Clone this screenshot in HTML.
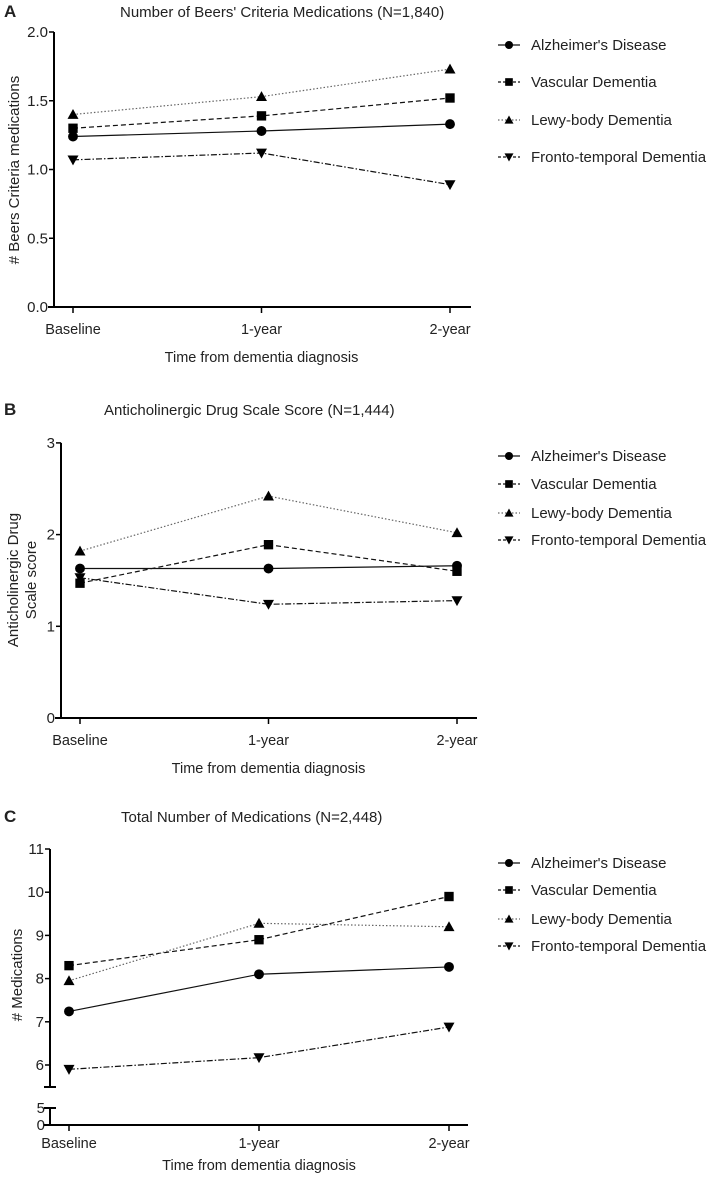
<!DOCTYPE html>
<html><head><meta charset="utf-8"><style>
body{margin:0;background:#fff;}
svg text{font-family:"Liberation Sans",Arial,sans-serif;fill:#222;}
</style></head><body>
<svg id="fig" width="717" height="1176" viewBox="0 0 717 1176" xmlns="http://www.w3.org/2000/svg"></svg>
<script>
const timeLabels = ["Baseline","1-year","2-year"];
const seriesNames = ["Alzheimer's Disease","Vascular Dementia","Lewy-body Dementia","Fronto-temporal Dementia"];
const beersAD = [1.24,1.28,1.33];
const beersVasc = [1.30,1.39,1.52];
const beersLewy = [1.40,1.53,1.73];
const beersFTD = [1.07,1.12,0.89];
const beersTicks = [0,0.5,1.0,1.5,2.0];
const acbAD = [1.63,1.63,1.66];
const acbVasc = [1.47,1.89,1.60];
const acbLewy = [1.82,2.42,2.02];
const acbFTD = [1.53,1.24,1.28];
const acbTicks = [0,1,2,3];
const medsAD = [7.24,8.10,8.27];
const medsVasc = [8.30,8.90,9.90];
const medsLewy = [7.95,9.28,9.20];
const medsFTD = [5.90,6.17,6.88];
const medsTicks = [6,7,8,9,10,11];

const NS="http://www.w3.org/2000/svg";
const svg=document.getElementById('fig');
function mk(tag,attrs,parent){const e=document.createElementNS(NS,tag);for(const k in attrs)e.setAttribute(k,attrs[k]);(parent||svg).appendChild(e);return e;}
const dashes=["", "5,3", "1.5,2", "6,2,1.5,2"];
const markers=["circle","square","tri","tridown"];
function marker(g,type,x,y,s){
  let m;
  if(type==="circle") m=mk('circle',{cx:x,cy:y,r:s*0.9,fill:'#000'},g);
  else if(type==="square") m=mk('rect',{x:x-s*0.85,y:y-s*0.85,width:s*1.7,height:s*1.7,fill:'#000'},g);
  else if(type==="tri") m=mk('polygon',{points:`${x},${y-s} ${x-s},${y+s*0.8} ${x+s},${y+s*0.8}`,fill:'#000'},g);
  else m=mk('polygon',{points:`${x},${y+s} ${x-s},${y-s*0.8} ${x+s},${y-s*0.8}`,fill:'#000'},g);
  return m;
}
function panel(p){
  const g=mk('g',{});
  
  
  const L=mk('text',{x:4,y:p.titleY+5,'font-size':17,'font-weight':'bold'},g);L.textContent=p.letter;
  
  
  const T=mk('text',{x:p.titleX,y:p.titleY+5,'font-size':15},g);T.textContent=p.title;
  
  
  const xs=i=>p.x0+(p.x2-p.x0)*i/2;
  const ys=p.ys;
  const ax=mk('g',{},g);
  
  
  if(p.broken){
    mk('line',{x1:p.ax,y1:ys(p.yTop),x2:p.ax,y2:p.breakY,stroke:'#000','stroke-width':2},ax);
    mk('line',{x1:p.ax-6,y1:p.breakY,x2:p.ax+6,y2:p.breakY,stroke:'#000','stroke-width':2},ax);
    mk('line',{x1:p.ax,y1:p.lowTop,x2:p.ax,y2:p.axY,stroke:'#000','stroke-width':2},ax);
    mk('line',{x1:p.ax-6,y1:p.lowTop,x2:p.ax+6,y2:p.lowTop,stroke:'#000','stroke-width':2},ax);
    const t5=mk('text',{x:p.ax-5,y:p.lowTop+5,'font-size':15,'text-anchor':'end'},ax);t5.textContent='5';
    const t0=mk('text',{x:p.ax-5,y:p.axY+5,'font-size':15,'text-anchor':'end'},ax);t0.textContent='0';
  } else {
    mk('line',{x1:p.ax,y1:ys(p.yTop),x2:p.ax,y2:p.axY,stroke:'#000','stroke-width':2},ax);
  }
  p.ticks.forEach(v=>{
    const y=ys(v);
    mk('line',{x1:p.ax-5,y1:y,x2:p.ax,y2:y,stroke:'#000','stroke-width':1.5},ax);
    const t=mk('text',{x:p.ax-6,y:y+5,'font-size':15,'text-anchor':'end'},ax);
    t.textContent=p.fmt(v);
  });
  const xa=mk('g',{},g);
  
  
  mk('line',{x1:p.ax-6,y1:p.axY,x2:p.xEnd,y2:p.axY,stroke:'#000','stroke-width':2},xa);
  timeLabels.forEach((lab,i)=>{
    const x=xs(i);
    mk('line',{x1:x,y1:p.axY,x2:x,y2:p.axY+6,stroke:'#000','stroke-width':1.5},xa);
    const t=mk('text',{x:x,y:p.axY+p.tlOff,'font-size':14.5,'text-anchor':'middle'},xa);t.textContent=lab;
  });
  const xt=mk('text',{x:(p.x0+p.x2)/2,y:p.axY+p.xtOff,'font-size':14.5,'text-anchor':'middle'},g);xt.textContent='Time from dementia diagnosis';
  
  
  const yt=mk('text',{transform:`translate(${p.ytX},${p.ytY}) rotate(-90)`,'font-size':15,'text-anchor':'middle'},g);
  
  
  p.ytLines.forEach((s,i)=>{const ts=mk('tspan',{x:0,dy:i===0?0:18},yt);ts.textContent=s;});
  p.series.forEach((vals,si)=>{
    const sg=mk('g',{},g);
    
    
    const pts=vals.map((v,i)=>xs(i)+','+ys(v)).join(' ');
    const pl=mk('polyline',{points:pts,fill:'none',stroke:si===2?'#666':'#111','stroke-width':1.2,'stroke-dasharray':dashes[si]},sg);
    
    
    vals.forEach((v,i)=>{
      const m=marker(sg,markers[si],xs(i),ys(v),5.5);
      
      
    });
  });
  const lg=mk('g',{},g);
  
  
  seriesNames.forEach((n,si)=>{
    const y=p.legY[si];
    const eg=mk('g',{},lg);
    
    
    mk('line',{x1:498,y1:y,x2:520,y2:y,stroke:si===2?'#666':'#111','stroke-width':1.2,'stroke-dasharray':si===0?'':(si===2?'1.5,2':'3,2')},eg);
    marker(eg,markers[si],509,y,4.5);
    const t=mk('text',{x:531,y:y+5,'font-size':15},eg);t.textContent=n;
  });
}
panel({name:'panel-a-beers',letter:'A',title:"Number of Beers' Criteria Medications (N=1,840)",titleX:120,titleY:12,
  ax:54,axY:307,x0:73,x2:450,xEnd:471,yTop:2.0,ys:v=>307-v*137.5,ticks:beersTicks,fmt:v=>v.toFixed(1),
  tlOff:27,xtOff:55,
  ytX:19,ytY:170,ytLines:['# Beers Criteria medications'],
  series:[beersAD,beersVasc,beersLewy,beersFTD],legY:[45,82,120,157]});
panel({name:'panel-b-anticholinergic',letter:'B',title:"Anticholinergic Drug Scale Score (N=1,444)",titleX:104,titleY:410,
  ax:61,axY:718,x0:80,x2:457,xEnd:477,yTop:3,ys:v=>718-v*91.7,ticks:acbTicks,fmt:v=>String(v),
  tlOff:27,xtOff:55,
  ytX:18,ytY:580,ytLines:['Anticholinergic Drug','Scale score'],
  series:[acbAD,acbVasc,acbLewy,acbFTD],legY:[456,484,513,540]});
panel({name:'panel-c-total-meds',letter:'C',title:"Total Number of Medications (N=2,448)",titleX:121,titleY:817,
  ax:50,axY:1125,x0:69,x2:449,xEnd:468,yTop:11,ys:v=>1065-(v-6)*43.2,ticks:medsTicks,fmt:v=>String(v),
  broken:true,breakY:1087,lowTop:1108,
  tlOff:23,xtOff:45,
  ytX:22,ytY:975,ytLines:['# Medications'],
  series:[medsAD,medsVasc,medsLewy,medsFTD],legY:[863,890,919,946]});
</script>
</body></html>
